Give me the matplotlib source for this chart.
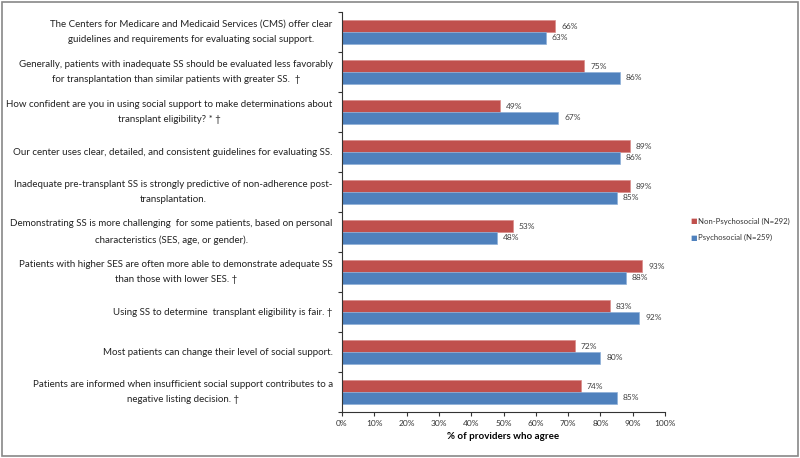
import numpy as np
import matplotlib.pyplot as plt
from matplotlib.patches import Rectangle

statements = [
    "The Centers for Medicare and Medicaid Services (CMS) offer clear\nguidelines and requirements for evaluating social support.",
    "Generally, patients with inadequate SS should be evaluated less favorably\nfor transplantation than similar patients with greater SS.  \u2020",
    "How confident are you in using social support to make determinations about\ntransplant eligibility? * \u2020",
    "Our center uses clear, detailed, and consistent guidelines for evaluating SS.",
    "Inadequate pre-transplant SS is strongly predictive of non-adherence post-\ntransplantation.",
    "Demonstrating SS is more challenging  for some patients, based on personal\ncharacteristics (SES, age, or gender).",
    "Patients with higher SES are often more able to demonstrate adequate SS\nthan those with lower SES. \u2020",
    "Using SS to determine  transplant eligibility is fair. \u2020",
    "Most patients can change their level of social support.",
    "Patients are informed when insufficient social support contributes to a\nnegative listing decision. \u2020",
]
non_psych = [66, 75, 49, 89, 89, 53, 93, 83, 72, 74]
psych = [63, 86, 67, 86, 85, 48, 88, 92, 80, 85]
series_names = ["Non-Psychosocial (N=292)", "Psychosocial (N=259)"]

red = "#C0504D"
blue = "#4F81BD"
plt.rcParams['font.family'] = ['Lato', 'DejaVu Sans']

fig = plt.figure(figsize=(8, 4.58), dpi=100)
ax = fig.add_axes([0.4275, 0.1004, 0.4038, 0.8733])

y = np.arange(len(statements))
h = 0.29
ax.barh(y - h / 2, non_psych, height=h, color=red, edgecolor="#d98c8a", linewidth=0.5)
ax.barh(y + h / 2, psych, height=h, color=blue, edgecolor="#8fb0d8", linewidth=0.5)

for i in range(len(statements)):
    ax.text(non_psych[i] + 1.8, y[i] - h / 2, f"{non_psych[i]}%", va='center', ha='left',
            fontsize=6, color="#404040")
    ax.text(psych[i] + 1.8, y[i] + h / 2, f"{psych[i]}%", va='center', ha='left',
            fontsize=6, color="#404040")
    ax.text(-2.9, y[i], statements[i], ha='right', va='center', multialignment='center',
            fontsize=7, color="#222222", linespacing=1.95)

ax.set_xlim(0, 100)
ax.set_ylim(len(statements) - 0.5, -0.5)
ax.set_xticks(np.arange(0, 101, 10))
ax.set_xticklabels([f"{v}%" for v in range(0, 101, 10)], fontsize=6, color="#333333")
ax.set_yticks(np.arange(-0.5, len(statements), 1))
ax.set_yticklabels([])
ax.tick_params(axis='both', direction='out', length=3, width=0.8, color="#333333")
ax.tick_params(axis='x', pad=3)
ax.set_xlabel("% of providers who agree", fontsize=7, fontweight='bold', labelpad=3)
for s in ['top', 'right']:
    ax.spines[s].set_visible(False)
for s in ['left', 'bottom']:
    ax.spines[s].set_color("#333333")
    ax.spines[s].set_linewidth(0.8)

# legend
fig.text(0.8675, 1 - 221 / 458, "\u25A0", color=red, fontsize=5, va='center', ha='center')
fig.text(0.873, 1 - 221 / 458, series_names[0], fontsize=5.6, va='center', color="#333333")
fig.text(0.8675, 1 - 237 / 458, "\u25A0", color=blue, fontsize=5, va='center', ha='center')
fig.text(0.873, 1 - 237 / 458, series_names[1], fontsize=5.6, va='center', color="#333333")

fig.patches.append(Rectangle((0.003, 0.004), 0.994, 0.991, transform=fig.transFigure,
                             fill=False, edgecolor="#888888", linewidth=1.2))

fig.savefig("out.png", dpi=100)
